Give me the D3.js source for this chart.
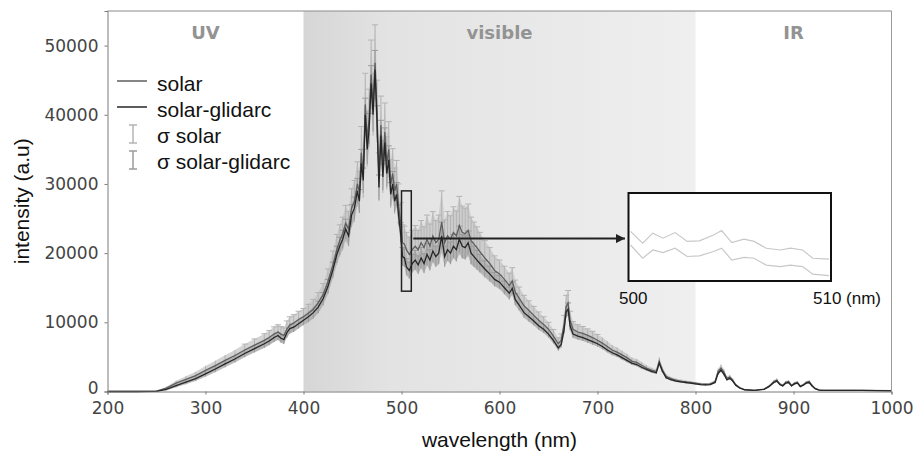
<!DOCTYPE html>
<html>
<head>
<meta charset="utf-8">
<script src="https://cdn.jsdelivr.net/npm/d3@7"></script>
<style>
  html, body { margin: 0; padding: 0; background: #fff; }
  #svg-container { width: 916px; height: 454px; }
</style>
</head>
<body>
<div id="svg-container"></div>
<script>
// data
var wavelength = [
  200,230,250,260,270,280,290,300,310,320,
  330,340,350,360,365,370,374,377,380,383,
  386,390,395,400,405,410,415,420,425,430,
  434,437,440,443,446,449,452,455,457,459,
  461,463,465,467,469,471,473,475,477,479,
  481,483,485,487,489,491,493,495,497,499,
  501,503,505,508,511,514,517,520,523,526,
  529,532,535,538,541,544,547,550,553,556,
  559,562,565,568,571,574,577,580,585,590,
  595,600,605,610,613,616,620,625,630,635,
  640,645,650,655,660,663,666,668,670,672,
  675,680,685,690,695,700,705,710,715,720,
  725,730,735,740,745,750,755,760,763,766,
  770,775,780,785,790,795,800,805,810,815,
  820,823,826,829,832,835,838,841,845,850,
  860,870,875,880,883,886,889,892,895,898,
  901,904,907,910,913,916,919,922,926,930,
  950,970,1000
];
var solarGlidarc = [
  0,0,30,300,850,1350,1850,2550,3250,4000,
  4700,5500,6200,6900,7300,7800,8100,7700,7500,8500,
  9100,9300,9800,10300,10800,11400,12200,13400,15200,17600,
  19800,21000,22000,23500,22500,25500,26500,29000,27500,33000,
  30500,40000,35000,38000,44500,40000,46500,39000,29500,37000,
  31000,36000,31500,33500,28500,30000,27500,28500,25500,23000,
  19500,19300,18000,17500,18500,19000,18300,19300,18500,19800,
  19000,20300,19500,20000,22500,19500,20500,20000,21000,20500,
  22000,21000,20800,21500,20000,19500,19000,18500,17700,17000,
  16200,15800,15000,14200,14900,13300,12500,11400,10800,10200,
  9500,9000,8300,7400,6300,6800,9000,11500,11900,9500,
  8300,8000,7800,7500,7200,6900,6500,6000,5600,5300,
  4900,4500,4100,3900,3500,3200,2900,2700,4100,3000,
  2000,1700,1500,1400,1300,1200,1100,1000,950,1000,
  1300,2600,3100,2500,1700,1900,1500,900,500,250,
  150,300,700,1300,1500,1000,800,1200,1300,800,
  1100,1200,700,900,1200,1300,800,400,200,150,
  150,150,100
];
var solar = [
  0,0,60,500,1200,1750,2300,3050,3750,4500,
  5200,6000,6700,7400,7800,8300,8600,8300,8100,9000,
  9600,9900,10400,10800,11300,11900,12800,14000,15900,18300,
  20500,21800,22800,24300,23500,26500,27500,30000,28800,34500,
  31500,41500,36500,39500,45800,41500,47500,40500,31000,38500,
  32500,37500,33000,35000,30000,31500,29000,30000,27000,24500,
  21500,21300,20500,19800,20500,21000,20500,21500,20800,22000,
  21000,22500,21500,22000,24500,21500,22500,22000,23000,22500,
  24000,23000,22800,23300,21800,21300,20800,20200,19300,18500,
  17500,17000,16200,15300,16000,14400,13500,12400,11700,11000,
  10300,9700,9000,8000,6900,7400,9800,12300,12800,10300,
  9000,8600,8400,8100,7800,7400,7000,6500,6000,5700,
  5300,4900,4400,4200,3800,3400,3100,2900,4400,3200,
  2200,1850,1650,1500,1400,1300,1200,1100,1050,1100,
  1450,2900,3400,2800,1900,2100,1650,1000,560,280,
  170,340,780,1450,1650,1100,880,1320,1430,880,
  1200,1320,770,990,1320,1430,880,440,220,170,
  170,170,120
];
var sigmaSolar = [
  0,0,50,200,350,450,550,650,700,750,
  800,850,900,950,1000,1050,1050,1100,1100,1200,
  1200,1200,1200,1200,1300,1400,1500,1600,1800,2000,
  2200,2300,2400,2600,2500,2800,3000,3200,3000,3800,
  3500,4500,4000,4200,5000,4500,5500,4500,3500,4200,
  3800,4200,3800,4000,3500,3600,3300,3400,3000,2800,
  2600,2600,2500,2500,2800,3000,2800,3200,3000,3500,
  3200,3500,3200,3500,4500,3300,3500,3400,3700,3600,
  4200,3800,3700,3800,3400,3200,3000,2800,2500,2300,
  2100,2000,1900,1800,1900,1700,1600,1500,1400,1300,
  1200,1100,1000,950,850,900,1200,1600,1800,1300,
  1100,1050,1000,950,900,850,800,750,700,650,
  600,550,500,500,450,400,350,350,550,400,
  300,250,230,220,200,200,180,170,160,170,
  200,400,500,400,280,300,250,150,100,60,
  40,60,120,200,240,160,120,180,200,120,
  160,180,100,130,180,200,120,60,30,20,
  20,20,20
];
var sigmaGlidarc = [
  0,0,30,150,250,300,350,400,450,500,
  500,550,550,600,600,650,650,650,650,700,
  700,700,700,700,750,800,850,900,1000,1100,
  1200,1300,1300,1400,1400,1500,1600,1800,1700,2000,
  1800,2400,2100,2200,2600,2400,2800,2300,1800,2200,
  1900,2100,1900,2000,1700,1800,1600,1700,1500,1400,
  1300,1300,1200,1200,1300,1400,1300,1500,1400,1600,
  1500,1600,1500,1600,2000,1500,1600,1600,1700,1700,
  1900,1700,1700,1700,1600,1500,1400,1300,1200,1100,
  1000,1000,950,900,950,850,800,750,700,650,
  600,550,500,450,400,450,600,800,900,650,
  550,500,500,450,450,400,400,350,350,300,
  300,280,260,250,230,200,180,170,280,200,
  150,130,120,110,100,100,90,90,80,90,
  100,200,250,200,140,150,120,80,50,30,
  20,30,60,100,120,80,60,90,100,60,
  80,90,50,60,90,100,60,30,15,10,
  10,10,10
];

// zoomed window 500-510 nm
var insetWavelength = [500.1,500.7,501.2,501.7,502.3,502.9,503.5,504.2,504.6,505.1,505.7,506.2,506.8,507.5,508.0,508.6,509.1,509.9];
var insetSolar = [22600,20600,22300,21450,22400,20900,21000,22000,22750,20700,21300,20900,19750,19450,19750,19450,18050,17900];
var insetGlidarc = [20300,18050,19450,19000,19750,18350,18450,19200,19750,17750,18200,18050,16900,16650,16900,16650,15350,15100];

var xTicks = [200, 300, 400, 500, 600, 700, 800, 900, 1000];
var yTicks = [0, 10000, 20000, 30000, 40000, 50000];
var regions = [
  { name: "UV", from: 200, to: 400 },
  { name: "visible", from: 400, to: 800 },
  { name: "IR", from: 800, to: 1000 }
];
var legendItems = ["solar", "solar-glidarc", "\u03c3 solar", "\u03c3 solar-glidarc"];

(function() {
  const width = 916;
  const height = 454;
  var margin = { left: 107.5, right: 24.5, top: 11, bottom: 62.5 };

  var svg = d3.select("#svg-container")
    .append("svg")
    .attr("width", width)
    .attr("height", height)
    .style("font-family", "'Liberation Sans', Arial, sans-serif");

  var x = d3.scaleLinear().domain([200, 1000]).range([margin.left, width - margin.right]);
  var y = d3.scaleLinear().domain([0, 55000]).range([height - margin.bottom, margin.top]);

  var rows = wavelength.map(function(w, i) {
    return { w: w, s: solar[i], g: solarGlidarc[i], ss: sigmaSolar[i], sg: sigmaGlidarc[i] };
  });

  // visible band shading
  var grad = svg.append("defs").append("linearGradient")
    .attr("id", "visGrad").attr("x1", "0").attr("x2", "1").attr("y1", "0").attr("y2", "0");
  grad.append("stop").attr("offset", "0%").attr("stop-color", "#d6d6d6");
  grad.append("stop").attr("offset", "22%").attr("stop-color", "#e3e3e3");
  grad.append("stop").attr("offset", "100%").attr("stop-color", "#efefef");

  svg.append("rect")
    .attr("x", x(400)).attr("y", y(55000))
    .attr("width", x(800) - x(400)).attr("height", y(0) - y(55000))
    .attr("fill", "url(#visGrad)");

  svg.selectAll(".regionLabel")
    .data(regions)
    .enter().append("text")
    .attr("class", "regionLabel")
    .attr("x", function(d) { return x((d.from + d.to) / 2); })
    .attr("y", 39)
    .attr("text-anchor", "middle")
    .style("font-family", "'DejaVu Sans', sans-serif")
    .style("font-weight", "bold")
    .style("font-size", "18px")
    .style("fill", "#939393")
    .text(function(d) { return d.name; });

  // error bands
  function band(key, sKey, fill) {
    svg.append("path")
      .datum(rows)
      .attr("d", d3.area()
        .x(function(d) { return x(d.w); })
        .y0(function(d) { return y(Math.max(0, d[key] - d[sKey])); })
        .y1(function(d) { return y(d[key] + d[sKey]); }))
      .attr("fill", fill)
      .attr("opacity", 0.75);
  }
  band("s", "ss", "#c4c4c4");
  band("g", "sg", "#a8a8a8");

  function errorBars(key, sKey, color) {
    var g = svg.append("g").attr("stroke", color).attr("stroke-width", 1);
    g.selectAll("line.bar")
      .data(rows.filter(function(d) { return d[sKey] > 0; }))
      .enter().append("line")
      .attr("x1", function(d) { return x(d.w); })
      .attr("x2", function(d) { return x(d.w); })
      .attr("y1", function(d) { return y(Math.max(0, d[key] - d[sKey])); })
      .attr("y2", function(d) { return y(d[key] + d[sKey]); });
    g.selectAll("line.cap")
      .data(rows.filter(function(d) { return d[sKey] > 800; }))
      .enter().append("line")
      .attr("x1", function(d) { return x(d.w) - 3; })
      .attr("x2", function(d) { return x(d.w) + 3; })
      .attr("y1", function(d) { return y(d[key] + d[sKey]); })
      .attr("y2", function(d) { return y(d[key] + d[sKey]); });
  }
  errorBars("s", "ss", "#b4b4b4");
  errorBars("g", "sg", "#9a9a9a");

  svg.append("path")
    .datum(rows)
    .attr("d", d3.line().x(function(d) { return x(d.w); }).y(function(d) { return y(d.s); }))
    .attr("fill", "none").attr("stroke", "#5e5e5e").attr("stroke-width", 1.3);
  svg.append("path")
    .datum(rows)
    .attr("d", d3.line().x(function(d) { return x(d.w); }).y(function(d) { return y(d.g); }))
    .attr("fill", "none").attr("stroke", "#262626").attr("stroke-width", 1.3);

  // frame and axes
  svg.append("line")
    .attr("x1", x(200)).attr("x2", x(1000)).attr("y1", y(55000)).attr("y2", y(55000))
    .attr("stroke", "#8a8a8a");
  svg.append("line")
    .attr("x1", x(1000)).attr("x2", x(1000)).attr("y1", y(55000)).attr("y2", y(0))
    .attr("stroke", "#9a9a9a");

  var xAxis = svg.append("g")
    .attr("transform", "translate(0," + y(0) + ")")
    .call(d3.axisBottom(x).tickValues(xTicks).tickSize(3).tickPadding(7).tickFormat(d3.format("d")));
  var yAxis = svg.append("g")
    .attr("transform", "translate(" + x(200) + ",0)")
    .call(d3.axisLeft(y).tickValues(yTicks).tickSize(3).tickPadding(6).tickFormat(d3.format("d")));
  [xAxis, yAxis].forEach(function(a) {
    a.select(".domain").attr("stroke", "#7a7a7a");
    a.selectAll(".tick line").attr("stroke", "#7a7a7a");
    a.selectAll(".tick text")
      .style("font-family", "'DejaVu Sans', sans-serif")
      .style("font-size", "17px")
      .style("fill", "#444");
  });
  // lift the zero label a little off the x labels
  yAxis.selectAll(".tick text").filter(function(d) { return d === 0; }).attr("dy", "0.1em");

  svg.append("text")
    .attr("x", x(600)).attr("y", 447)
    .attr("text-anchor", "middle")
    .style("font-size", "21px").style("fill", "#111")
    .text("wavelength (nm)");
  svg.append("text")
    .attr("transform", "translate(29," + y(27500) + ") rotate(-90)")
    .attr("text-anchor", "middle")
    .style("font-size", "21px").style("fill", "#111")
    .text("intensity (a.u)");

  // legend
  var legend = svg.append("g");
  var lineColors = ["#5e5e5e", "#262626"];
  var barColors = ["#b4b4b4", "#9a9a9a"];
  legendItems.forEach(function(label, i) {
    var cy = 84 + i * 26;
    if (i < 2) {
      legend.append("line")
        .attr("x1", 117).attr("x2", 147).attr("y1", cy - 3).attr("y2", cy - 3)
        .attr("stroke", lineColors[i]).attr("stroke-width", 1.5);
    } else {
      var gg = legend.append("g").attr("stroke", barColors[i - 2]).attr("stroke-width", 1.5);
      gg.append("line").attr("x1", 133).attr("x2", 133).attr("y1", cy - 11).attr("y2", cy + 7);
      gg.append("line").attr("x1", 129).attr("x2", 137).attr("y1", cy - 11).attr("y2", cy - 11);
      gg.append("line").attr("x1", 129).attr("x2", 137).attr("y1", cy + 7).attr("y2", cy + 7);
    }
    legend.append("text")
      .attr("x", 157).attr("y", cy + 7)
      .style("font-size", "21px").style("fill", "#111")
      .text(label);
  });

  // zoom marker, arrow and inset
  svg.append("rect")
    .attr("x", x(500)).attr("y", y(29000))
    .attr("width", x(510) - x(500)).attr("height", y(14500) - y(29000))
    .attr("fill", "none").attr("stroke", "#222").attr("stroke-width", 1.5);

  svg.append("defs").append("marker")
    .attr("id", "arrow").attr("viewBox", "0 0 10 10")
    .attr("refX", 10).attr("refY", 5)
    .attr("markerWidth", 5).attr("markerHeight", 4.5)
    .attr("orient", "auto")
    .append("path").attr("d", "M0,0 L10,5 L0,10 Z").attr("fill", "#222");
  svg.append("line")
    .attr("x1", x(510) + 2).attr("x2", 625)
    .attr("y1", y(22100)).attr("y2", y(22100))
    .attr("stroke", "#222").attr("stroke-width", 2)
    .attr("marker-end", "url(#arrow)");

  var ix = d3.scaleLinear().domain([500, 510]).range([628.5, 831]);
  var iy = d3.scaleLinear().domain([14200, 29100]).range([281, 193]);
  svg.append("rect")
    .attr("x", ix(500)).attr("y", iy(29100))
    .attr("width", ix(510) - ix(500)).attr("height", iy(14200) - iy(29100))
    .attr("fill", "#fff").attr("stroke", "#111").attr("stroke-width", 2);
  [insetSolar, insetGlidarc].forEach(function(vals) {
    svg.append("path")
      .datum(insetWavelength.map(function(w, i) { return [w, vals[i]]; }))
      .attr("d", d3.line().x(function(d) { return ix(d[0]); }).y(function(d) { return iy(d[1]); }))
      .attr("fill", "none").attr("stroke", "#c8c8c8").attr("stroke-width", 1.2);
  });
  svg.append("text")
    .attr("x", 619).attr("y", 304)
    .style("font-size", "17px").style("fill", "#111")
    .text("500");
  svg.append("text")
    .attr("x", 813).attr("y", 304)
    .style("font-size", "17px").style("fill", "#111")
    .text("510 (nm)");
}());
</script>
</body>
</html>
